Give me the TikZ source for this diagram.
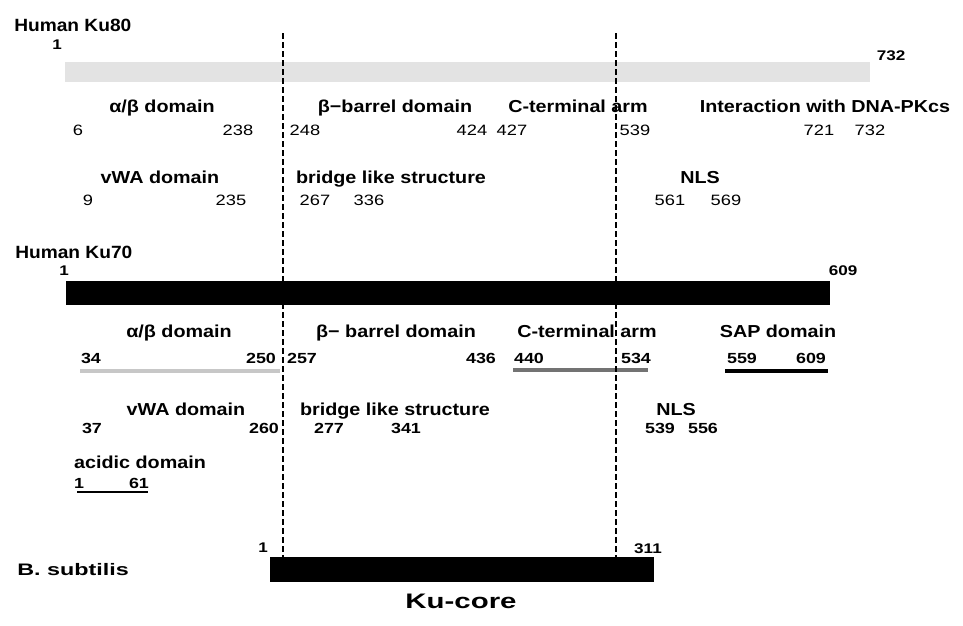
\documentclass[tikz,border=0pt]{standalone}
\usepackage{fontspec}
\setmainfont{Liberation Sans}
\newfontfamily\labf[FakeStretch=1.14]{Liberation Sans}
\newfontfamily\numf[FakeStretch=1.22]{Liberation Sans}
\newfontfamily\titf[FakeStretch=1.08]{Liberation Sans}
\newfontfamily\bsf[FakeStretch=1.4]{Liberation Sans}
\begin{document}
\begin{tikzpicture}[x=0.75pt,y=-0.75pt,
  lab/.style={anchor=base,inner sep=0pt,font=\labf\bfseries\fontsize{13}{15}\selectfont},
  num/.style={anchor=base,inner sep=0pt,font=\numf\fontsize{11.25}{13}\selectfont},
  numb/.style={anchor=base,inner sep=0pt,font=\numf\bfseries\fontsize{11}{13}\selectfont},
  endn/.style={anchor=base,inner sep=0pt,font=\numf\bfseries\fontsize{10.5}{12}\selectfont},
  title/.style={anchor=base west,inner sep=0pt,font=\titf\bfseries\fontsize{13.3}{15}\selectfont},
  barblack/.style={fill=black,draw=none},
  bargray/.style={fill=black!11,draw=none},
  guide/.style={line width=1.5pt,dash pattern=on 4.5pt off 2.25pt},
  uline/.style={line width=2.3pt}]
\useasboundingbox (0,0) rectangle (963,625);

% ---------------- Human Ku80 ----------------
\node[title] (t80) at (14,31) {Human Ku80};
\node[endn] (k80s) at (57,49) {1};
\node[endn] (k80e) at (891,60) {732};
\path[bargray] (65,62) rectangle (870,82);

\node[lab] (a1) at (162,112) {α/β domain};
\node[lab] (a2) at (395,112) {β−barrel domain};
\node[lab] (a3) at (578,112) {C-terminal arm};
\node[lab] (a4) at (825,112) {Interaction with DNA-PKcs};

\node[num] (n1) at (78,135) {6};
\node[num] (n2) at (238,135) {238};
\node[num] (n3) at (305,135) {248};
\node[num] (n4) at (472,135) {424};
\node[num] (n5) at (512,135) {427};
\node[num] (n6) at (635,135) {539};
\node[num] (n7) at (819,135) {721};
\node[num] (n8) at (870,135) {732};

\node[lab] (b1) at (160,183) {vWA domain};
\node[lab] (b2) at (391,183) {bridge like structure};
\node[lab] (b3) at (700,183) {NLS};

\node[num] (m1) at (88,205) {9};
\node[num] (m2) at (231,205) {235};
\node[num] (m3) at (315,205) {267};
\node[num] (m4) at (369,205) {336};
\node[num] (m5) at (670,205) {561};
\node[num] (m6) at (726,205) {569};

% ---------------- Human Ku70 ----------------
\node[title] (t70) at (15,258) {Human Ku70};
\node[endn] (k70s) at (64,275) {1};
\node[endn] (k70e) at (843,275) {609};
\path[barblack] (66,281) rectangle (830,305);

\node[lab] (c1) at (179,337) {α/β domain};
\node[lab] (c2) at (396,337) {β− barrel domain};
\node[lab] (c3) at (587,337) {C-terminal arm};
\node[lab] (c4) at (778,337) {SAP domain};

\node[numb] (p1) at (91,363) {34};
\node[numb] (p2) at (261,363) {250};
\node[numb] (p3) at (302,363) {257};
\node[numb] (p4) at (481,363) {436};
\node[numb] (p5) at (529,363) {440};
\node[numb] (p6) at (636,363) {534};
\node[numb] (p7) at (742,363) {559};
\node[numb] (p8) at (811,363) {609};

\draw[uline,black!22] (80,371) -- (280,371);
\draw[uline,black!55] (513,370) -- (648,370);
\draw[uline,black] (725,371) -- (828,371);

\node[lab] (d1) at (186,415) {vWA domain};
\node[lab] (d2) at (395,415) {bridge like structure};
\node[lab] (d3) at (676,415) {NLS};

\node[numb] (q1) at (92,433) {37};
\node[numb] (q2) at (264,433) {260};
\node[numb] (q3) at (329,433) {277};
\node[numb] (q4) at (406,433) {341};
\node[numb] (q5) at (660,433) {539};
\node[numb] (q6) at (703,433) {556};

\node[lab] (e1) at (140,468) {acidic domain};
\node[numb] (r1) at (79,488) {1};
\node[numb] (r2) at (139,488) {61};
\draw[line width=2pt] (77,492) -- (148,492);

% ---------------- B. subtilis ----------------
\node[endn] (bss) at (263,552) {1};
\node[endn] (bse) at (648,553) {311};
\path[barblack] (270,557) rectangle (654,582);
\node[anchor=base west,inner sep=0pt,font=\bsf\bfseries\fontsize{12.5}{14}\selectfont] (bst) at (17,575) {B. subtilis};
\node[anchor=base,inner sep=0pt,font=\bsf\bfseries\fontsize{15.75}{18}\selectfont] (kc) at (461,608) {Ku-core};

% ---------------- guide lines ----------------
\coordinate (g1t) at (283,33);
\coordinate (g1b) at (283,557);
\coordinate (g2t) at (616,33);
\coordinate (g2b) at (616,557);
\draw[guide] (g1t) -- (g1b);
\draw[guide] (g2t) -- (g2b);
\end{tikzpicture}
\end{document}
